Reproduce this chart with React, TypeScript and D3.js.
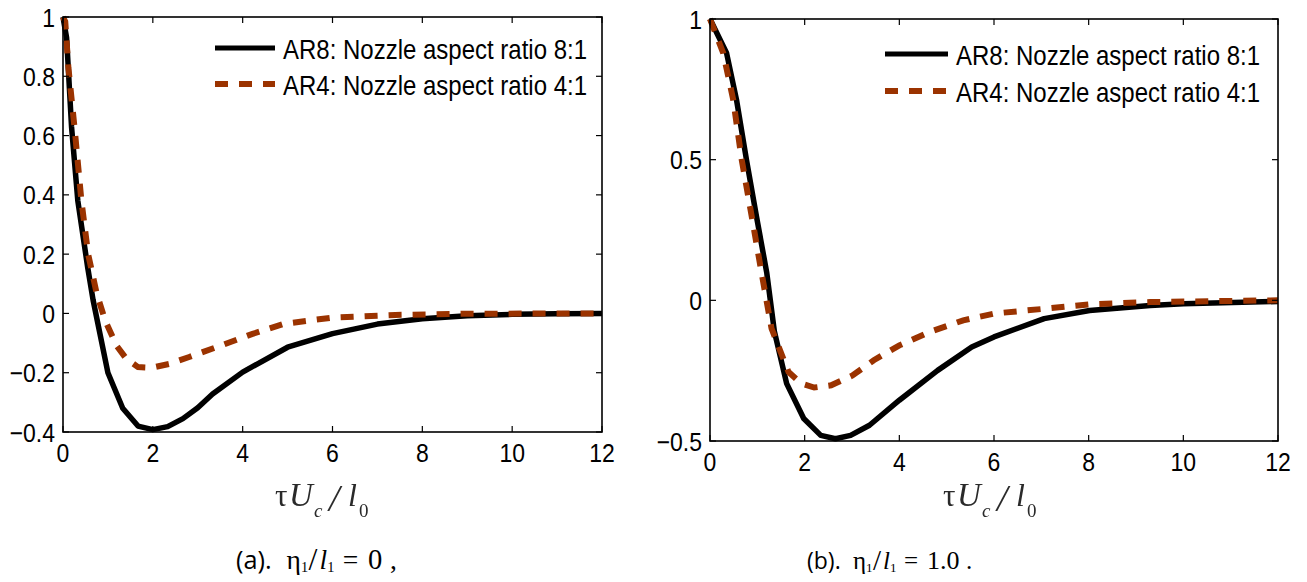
import React from "react";
import * as d3 from "d3";

// ---------- data ----------
const xTickValues = [0, 2, 4, 6, 8, 10, 12];
const yTicksA = [-0.4, -0.2, 0, 0.2, 0.4, 0.6, 0.8, 1];
const yTicksB = [-0.5, 0, 0.5, 1];
const legendLabels = ["AR8: Nozzle aspect ratio 8:1", "AR4: Nozzle aspect ratio 4:1"];

// panel (a): eta1/l1 = 0
const ar8A_x = [0, 0.08, 0.19, 0.33, 0.55, 0.67, 1.0, 1.33, 1.67, 2.0, 2.33, 2.67, 3.0, 3.33, 4.0, 5.0, 6.0, 7.0, 8.0, 9.0, 10, 11, 12];
const ar8A_y = [1, 0.93, 0.63, 0.38, 0.155, 0.045, -0.2, -0.32, -0.38, -0.392, -0.382, -0.355, -0.318, -0.272, -0.198, -0.114, -0.068, -0.036, -0.018, -0.008, -0.003, -0.001, 0];
const ar4A_x = [0, 0.05, 0.12, 0.27, 0.41, 0.56, 0.75, 0.94, 1.19, 1.41, 1.67, 1.98, 2.37, 2.81, 3.52, 4.22, 4.92, 6.0, 7.4, 9, 12];
const ar4A_y = [1, 0.985, 0.83, 0.606, 0.38, 0.2, 0.067, -0.024, -0.108, -0.153, -0.181, -0.183, -0.17, -0.147, -0.108, -0.069, -0.035, -0.014, -0.005, -0.001, 0];

// panel (b): eta1/l1 = 1.0
const ar8B_x = [0, 0.35, 0.56, 0.77, 0.98, 1.2, 1.36, 1.62, 1.98, 2.34, 2.65, 2.97, 3.37, 4.0, 4.81, 5.53, 6.0, 7.06, 8.02, 9.3, 10, 12];
const ar8B_y = [1, 0.879, 0.713, 0.5, 0.3, 0.097, -0.11, -0.296, -0.42, -0.48, -0.492, -0.48, -0.444, -0.355, -0.249, -0.166, -0.13, -0.065, -0.036, -0.018, -0.012, -0.004];
const ar4B_x = [0, 0.28, 0.49, 0.67, 0.88, 1.09, 1.3, 1.48, 1.66, 1.93, 2.2, 2.56, 3.01, 3.46, 4.0, 4.63, 5.35, 6.0, 7.06, 8.02, 9.3, 12];
const ar4B_y = [1, 0.879, 0.713, 0.5, 0.3, 0.097, -0.1, -0.178, -0.255, -0.296, -0.31, -0.302, -0.267, -0.213, -0.16, -0.113, -0.071, -0.047, -0.03, -0.014, -0.006, 0];

const BLACK = "#000000";
const RUST = "#9b3300";
const SANS = "'Liberation Sans', Arial, sans-serif";
const SERIF = "'Liberation Serif', 'Times New Roman', serif";

function fmt(v: number): string {
  if (v === 0) return "0";
  return String(v).replace("-", "\u2212");
}

function zip(xs: number[], ys: number[]): [number, number][] {
  return xs.map((v, i) => [v, ys[i]] as [number, number]);
}

type Box = { l: number; r: number; t: number; b: number };

function SText(props: any) {
  const { x, y, sy = 1.12, children, ...rest } = props;
  return (
    <text transform={`translate(${x},${y}) scale(1,${sy})`} {...rest}>
      {children}
    </text>
  );
}

function Panel(props: {
  box: Box;
  yDomain: [number, number];
  yTicks: number[];
  black: [number, number][];
  rust: [number, number][];
  legend: { x1: number; x2: number; tx: number; y1: number; y2: number };
  labelX: number;
  labelY: number;
}) {
  const { box, yDomain, yTicks, black, rust, legend, labelX, labelY } = props;
  const x = d3.scaleLinear().domain([0, 12]).range([box.l, box.r]);
  const y = d3.scaleLinear().domain(yDomain).range([box.b, box.t]);
  const line = d3
    .line<[number, number]>()
    .x((d) => x(d[0]))
    .y((d) => y(d[1]));
  const tl = 6;
  return (
    <g>
      {/* curves */}
      <path d={line(black) || ""} fill="none" stroke={BLACK} strokeWidth={5.5} strokeLinejoin="round" />
      <path d={line(rust) || ""} fill="none" stroke={RUST} strokeWidth={6} strokeDasharray="13,11" />
      {/* frame */}
      <rect x={box.l} y={box.t} width={box.r - box.l} height={box.b - box.t} fill="none" stroke="#000" strokeWidth={1.6} />
      {/* ticks */}
      {xTickValues.map((v) => (
        <g key={"xt" + v}>
          <line x1={x(v)} x2={x(v)} y1={box.b} y2={box.b - tl} stroke="#000" strokeWidth={1.2} />
          <line x1={x(v)} x2={x(v)} y1={box.t} y2={box.t + tl} stroke="#000" strokeWidth={1.2} />
          <SText x={x(v)} y={box.b + 30} textAnchor="middle" fontFamily={SANS} fontSize={23} fill="#000">
            {fmt(v)}
          </SText>
        </g>
      ))}
      {yTicks.map((v) => (
        <g key={"yt" + v}>
          <line x1={box.l} x2={box.l + tl} y1={y(v)} y2={y(v)} stroke="#000" strokeWidth={1.2} />
          <line x1={box.r} x2={box.r - tl} y1={y(v)} y2={y(v)} stroke="#000" strokeWidth={1.2} />
          <SText x={box.l - 8} y={y(v) + 9.5} textAnchor="end" fontFamily={SANS} fontSize={23} fill="#000">
            {fmt(v)}
          </SText>
        </g>
      ))}
      {/* legend */}
      <line x1={legend.x1} x2={legend.x2} y1={legend.y1} y2={legend.y1} stroke={BLACK} strokeWidth={5} />
      <line x1={legend.x1} x2={legend.x2} y1={legend.y2} y2={legend.y2} stroke={RUST} strokeWidth={6} strokeDasharray="13,11" />
      <SText x={legend.tx} y={legend.y1 + 11} sy={1.18} fontFamily={SANS} fontSize={24} fill="#000">
        {legendLabels[0]}
      </SText>
      <SText x={legend.tx} y={legend.y2 + 11} sy={1.18} fontFamily={SANS} fontSize={24} fill="#000">
        {legendLabels[1]}
      </SText>
      {/* x axis label */}
      <g filter="url(#soft)" fill="#2a2a2a" fontFamily={SERIF}>
        <text x={labelX} y={labelY} fontSize={31}>τ</text>
        <text x={labelX + 14} y={labelY} fontSize={33} fontStyle="italic">U</text>
        <text x={labelX + 39} y={labelY + 11} fontSize={19} fontStyle="italic">c</text>
        <text x={labelX + 54} y={labelY + 5} fontSize={38} fontStyle="italic">/</text>
        <text x={labelX + 73} y={labelY} fontSize={32} fontStyle="italic">l</text>
        <text x={labelX + 84} y={labelY + 11} fontSize={19}>0</text>
      </g>
    </g>
  );
}

function Caption(props: { x: number; y: number; s: number; tag: string; val: string; end: string; endDx: number }) {
  const { x, y, s, tag, val, end, endDx } = props;
  return (
    <g fill="#000" transform={`translate(${x},${y}) scale(${s})`}>
      <text x={0} y={0} fontFamily="'Open Sans', sans-serif" fontSize={23}>{tag}</text>
      <text x={46} y={0} fontFamily={SERIF} fontSize={25}>η</text>
      <text x={59} y={3} fontFamily={SERIF} fontSize={13}>1</text>
      <text x={66} y={1} fontFamily={SERIF} fontSize={29}>/</text>
      <text x={76} y={0} fontFamily={SERIF} fontSize={25} fontStyle="italic">l</text>
      <text x={83} y={3} fontFamily={SERIF} fontSize={13}>1</text>
      <text x={97} y={0} fontFamily={SERIF} fontSize={25}>=</text>
      <text x={120} y={0} fontFamily={SERIF} fontSize={26}>{val}</text>
      <text x={endDx} y={0} fontFamily={SERIF} fontSize={25}>{end}</text>
    </g>
  );
}

export default function App() {
  const boxA: Box = { l: 63, r: 602, t: 17, b: 432 };
  const boxB: Box = { l: 710, r: 1278, t: 19, b: 441 };
  return (
    <svg width={1307} height={582} style={{ position: "absolute", left: 0, top: 0, background: "#fff" }}>
      <defs>
        <filter id="soft" x="-10%" y="-10%" width="120%" height="120%">
          <feGaussianBlur stdDeviation="0.6" />
        </filter>
      </defs>
      <rect x={0} y={0} width={1307} height={582} fill="#fff" />
      <Panel
        box={boxA}
        yDomain={[-0.4, 1]}
        yTicks={yTicksA}
        black={zip(ar8A_x, ar8A_y)}
        rust={zip(ar4A_x, ar4A_y)}
        legend={{ x1: 215, x2: 275, tx: 283, y1: 48, y2: 84 }}
        labelX={275}
        labelY={506}
      />
      <Panel
        box={boxB}
        yDomain={[-0.5, 1]}
        yTicks={yTicksB}
        black={zip(ar8B_x, ar8B_y)}
        rust={zip(ar4B_x, ar4B_y)}
        legend={{ x1: 885, x2: 948, tx: 956, y1: 54, y2: 91 }}
        labelX={943}
        labelY={506}
      />
      <Caption x={236} y={569} s={1.1} tag="(a)." val="0" end="," endDx={140} />
      <Caption x={807} y={569} s={1} tag="(b)." val="1.0" end="." endDx={159} />
    </svg>
  );
}
